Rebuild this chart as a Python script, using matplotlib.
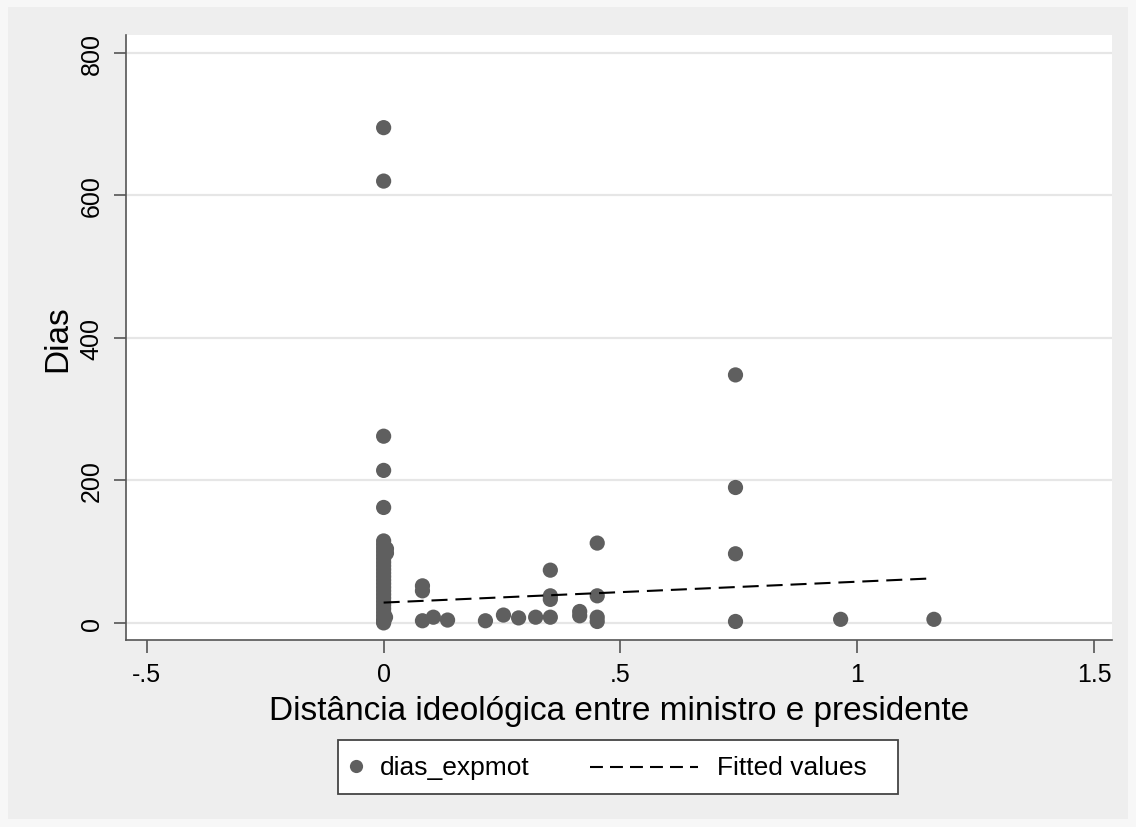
import matplotlib.pyplot as plt
import matplotlib.patches as patches
import numpy as np

# distância ideológica (x) e dias até a exposição de motivos (y)
dist_zero_dias = [695, 620, 262, 214, 162, 115, 110, 105, 100, 95, 90, 85,
                  80, 75, 70, 65, 60, 55, 50, 45, 40, 35, 30, 25, 20, 15,
                  10, 5, 2, 0]
dist_outros = [0.006, 0.006, 0.004,
               0.082, 0.082, 0.082, 0.105, 0.135, 0.215, 0.253, 0.285,
               0.321, 0.352, 0.352, 0.352, 0.352, 0.414, 0.414,
               0.451, 0.451, 0.451, 0.451,
               0.743, 0.743, 0.743, 0.743, 0.965, 1.162]
dias_outros = [104, 98, 8,
               52, 45, 3, 8, 4, 3, 11, 7,
               8, 74, 38, 33, 8, 16, 10,
               112, 38, 8, 2,
               348, 190, 97, 2, 5, 5]

# reta ajustada (lfit)
intercepto = 28.5
inclinacao = 29.3

x_ticks = [-0.5, 0, 0.5, 1, 1.5]
x_tick_labels = ["-.5", "0", ".5", "1", "1.5"]
y_ticks = [0, 200, 400, 600, 800]
legend_labels = ["dias_expmot", "Fitted values"]

x = np.array([0.0] * len(dist_zero_dias) + dist_outros)
y = np.array(dist_zero_dias + dias_outros)

plt.rcParams["font.family"] = ["Liberation Sans", "DejaVu Sans"]

W, H = 1136, 828
fig = plt.figure(figsize=(W / 100, H / 100), dpi=100)
fig.patch.set_facecolor("#f7f7f7")
# graph region cinza
fig.patches.append(patches.Rectangle((8 / W, 8 / H), 1120 / W, 812 / H,
                                     transform=fig.transFigure, facecolor="#eeeeee",
                                     edgecolor="none", zorder=-1))

ax = fig.add_axes([126 / W, 1 - 641 / H, 986 / W, 605 / H])
ax.set_facecolor("white")

for yt in y_ticks:
    ax.axhline(yt, color="#e6e6e6", lw=1.6, zorder=1)

ax.scatter(x, y, s=120, color="#5f5f5f", edgecolors="none", zorder=3)

xfit = np.array([x.min(), x.max()])
ax.plot(xfit, intercepto + inclinacao * xfit, color="black", lw=1.5,
        dashes=(7.7, 3.8), zorder=4)

ax.set_xlim(-0.544, 1.538)
ax.set_ylim(-24, 825)
ax.set_xticks(x_ticks)
ax.set_xticklabels(x_tick_labels)
ax.set_yticks(y_ticks)
ax.set_yticklabels([str(v) for v in y_ticks], rotation=90, va="center")

for side in ["top", "right"]:
    ax.spines[side].set_visible(False)
for side in ["left", "bottom"]:
    ax.spines[side].set_color("#555555")
    ax.spines[side].set_linewidth(1.2)

ax.tick_params(axis="both", length=9, width=1.2, color="#555555",
               labelsize=18, labelcolor="black")
ax.tick_params(axis="x", pad=7)
ax.tick_params(axis="y", pad=7)

ax.set_xlabel("Distância ideológica entre ministro e presidente", fontsize=24,
              labelpad=6)
ax.set_ylabel("Dias", fontsize=24, labelpad=5)

# legenda desenhada em coordenadas de pixel da figura
lg = fig.add_axes([0, 0, 1, 1], zorder=5)
lg.set_xlim(0, W)
lg.set_ylim(H, 0)
lg.axis("off")
lg.patch.set_visible(False)
lg.add_patch(patches.Rectangle((338, 741), 560, 54, facecolor="white",
                               edgecolor="#444444", lw=1.3))
lg.plot([356], [767], "o", ms=9.5, color="#5f5f5f", mec="none")
lg.text(380, 768, legend_labels[0], fontsize=19, va="center", ha="left")
lg.plot([590, 698], [768, 768], color="black", lw=1.5, dashes=(6.2, 3.4))
lg.text(717, 768, legend_labels[1], fontsize=19, va="center", ha="left")

fig.savefig("out.png", dpi=100, facecolor=fig.get_facecolor())
